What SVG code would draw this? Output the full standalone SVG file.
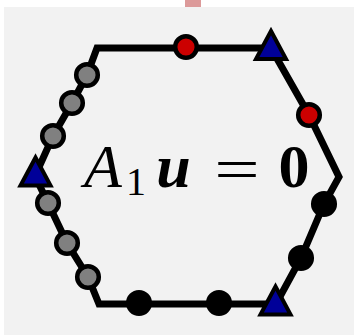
<svg xmlns="http://www.w3.org/2000/svg" width="354" height="335" viewBox="0 0 354 335">
  <style>
    .edge { fill: none; stroke: #000; stroke-width: 7; stroke-linejoin: miter; }
    .dot { stroke: #000; stroke-width: 4.5; }
    .red { fill: #cc0000; }
    .gray { fill: #808080; }
    .black { fill: #000; }
    .tri { fill: #000099; stroke: #000; stroke-width: 4; stroke-linejoin: miter; }
    .eq { font-family: "Liberation Serif", "DejaVu Serif", serif; fill: #000; text-anchor: middle; }
  </style>
  <defs>
    <path id="triangle" d="M0,-18 L15,10 L-15,10 Z"/>
  </defs>
  <rect x="0" y="0" width="354" height="335" fill="#ffffff"/>
  <rect x="4" y="7" width="350" height="328" fill="#f2f2f2"/>
  <rect x="185" y="0" width="16" height="7" fill="#dc9a9a"/>

  <g id="connectors">
    <polygon class="edge" points="97,48 271,48 309,115 339,177 324,204 301,258 276,304 99,304 88,277 67,243 48,203 35,176 53,136 72,103 87,75"/>
  </g>

  <g id="label">
    <text class="eq" x="103" y="187" font-size="62" font-style="italic">A</text>
    <text class="eq" x="136" y="195" font-size="40">1</text>
    <text class="eq" x="173.5" y="187" font-size="62" font-style="italic" font-weight="bold">u</text>
    <text class="eq" font-size="62" transform="translate(237,190) scale(1.3,1)" x="0" y="0">=</text>
    <text class="eq" x="294" y="187" font-size="62" font-weight="bold">0</text>
  </g>

  <g id="node-top-red"><circle class="dot red" cx="186" cy="47" r="10.8"/></g>
  <g id="node-right-red"><circle class="dot red" cx="309" cy="115" r="10.8"/></g>
  <g id="node-gray-1"><circle class="dot gray" cx="87" cy="75" r="10.8"/></g>
  <g id="node-gray-2"><circle class="dot gray" cx="72" cy="103" r="10.8"/></g>
  <g id="node-gray-3"><circle class="dot gray" cx="53" cy="136" r="10.8"/></g>
  <g id="node-gray-4"><circle class="dot gray" cx="48" cy="203" r="10.8"/></g>
  <g id="node-gray-5"><circle class="dot gray" cx="67" cy="243" r="10.8"/></g>
  <g id="node-gray-6"><circle class="dot gray" cx="88" cy="277" r="10.8"/></g>
  <g id="node-black-1"><circle class="dot black" cx="324" cy="204" r="10.8"/></g>
  <g id="node-black-2"><circle class="dot black" cx="301" cy="258" r="10.8"/></g>
  <g id="node-black-3"><circle class="dot black" cx="139" cy="303" r="10.8"/></g>
  <g id="node-black-4"><circle class="dot black" cx="219" cy="303" r="10.8"/></g>
  <g id="node-tri-top"><use href="#triangle" class="tri" x="271" y="49"/></g>
  <g id="node-tri-left"><use href="#triangle" class="tri" x="35.5" y="175.5"/></g>
  <g id="node-tri-bottom"><use href="#triangle" class="tri" x="275.5" y="304.5"/></g>
</svg>
